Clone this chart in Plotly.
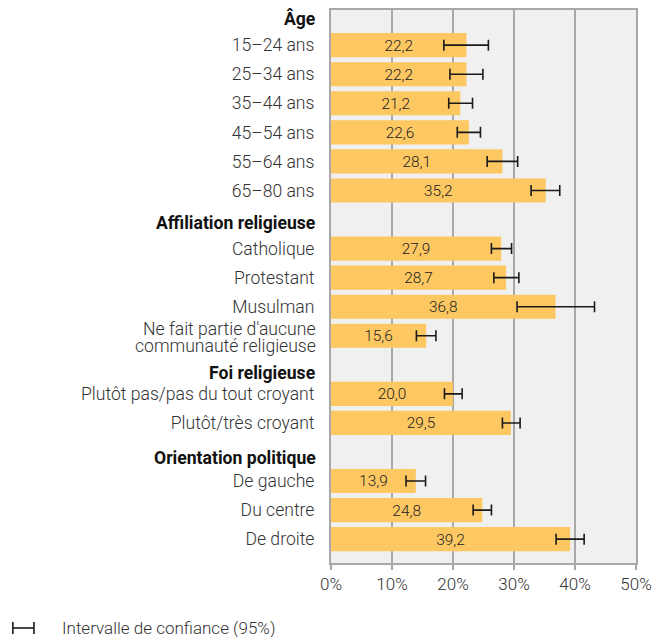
import plotly.graph_objects as go

# group headers and the row slot they sit on
groups = ["Âge", "Affiliation religieuse", "Foi religieuse", "Orientation politique"]
group_slots = [0, 7, 12, 15]

categories = [
    "15–24 ans", "25–34 ans", "35–44 ans", "45–54 ans", "55–64 ans", "65–80 ans",
    "Catholique", "Protestant", "Musulman",
    "Ne fait partie d'aucune<br>communauté religieuse",
    "Plutôt pas/pas du tout croyant", "Plutôt/très croyant",
    "De gauche", "Du centre", "De droite",
]
slots = [1, 2, 3, 4, 5, 6, 8, 9, 10, 11, 13, 14, 16, 17, 18]
values = [22.2, 22.2, 21.2, 22.6, 28.1, 35.2, 27.9, 28.7, 36.8, 15.6, 20.0, 29.5, 13.9, 24.8, 39.2]
ci_low = [18.5, 19.5, 19.3, 20.7, 25.6, 32.8, 26.3, 26.7, 30.5, 14.0, 18.6, 28.1, 12.3, 23.3, 36.9]
ci_high = [25.8, 24.9, 23.2, 24.5, 30.6, 37.5, 29.6, 30.8, 43.2, 17.2, 21.5, 31.0, 15.5, 26.3, 41.5]

x_ticks = [0, 10, 20, 30, 40, 50]
x_labels = ["0%", "10%", "20%", "30%", "40%", "50%"]

BAR = "#FDC762"
FONT = "Roboto"
TXT = dict(family=FONT, size=17, color="#333333", weight=300)
LBL = dict(family=FONT, size=17.6, color="#333333", weight=300)

fig = go.Figure(
    go.Bar(
        x=values,
        y=slots,
        orientation="h",
        width=0.83,
        marker=dict(color=BAR, line=dict(width=0)),
        text=[f"{v:.1f}".replace(".", ",") for v in values],
        textposition="inside",
        insidetextanchor="middle",
        textfont=dict(family=FONT, size=17, color="#222222", weight=300),
        error_x=dict(
            type="data",
            symmetric=False,
            array=[h - v for h, v in zip(ci_high, values)],
            arrayminus=[v - l for l, v in zip(ci_low, values)],
            color="#1a1a1a",
            thickness=1.6,
            width=5.5,
        ),
        hoverinfo="skip",
    )
)

# bold group headers
header_shift = [-2, -3, -8, -6]
for g, s, dy in zip(groups, group_slots, header_shift):
    fig.add_annotation(
        x=0, xref="paper", y=s, yref="y", text=f"<b>{g}</b>",
        xanchor="right", xshift=-13, yshift=dy, showarrow=False,
        font=dict(family=FONT, size=17.6, color="#111111", weight=500),
    )

# category labels: multi-line ones drawn as annotations so the lines sit tight
tick_text = []
for c, s in zip(categories, slots):
    if "<br>" in c:
        tick_text.append("")
        for line, dy in zip(c.split("<br>"), (7, -10)):
            fig.add_annotation(
                x=0, xref="paper", y=s, yref="y", text=line,
                xanchor="right", xshift=-13, yshift=dy, showarrow=False, font=LBL,
            )
    else:
        tick_text.append(c)

# legend for the confidence interval (page body has an 8px margin)
ly = -0.1175
fig.add_shape(type="line", xref="paper", yref="paper", x0=-1.043, x1=-0.974, y0=ly, y1=ly,
              line=dict(color="#1a1a1a", width=1.6))
for xx in (-1.043, -0.974):
    fig.add_shape(type="line", xref="paper", yref="paper", x0=xx, x1=xx, y0=ly + 0.011, y1=ly - 0.011,
                  line=dict(color="#1a1a1a", width=1.6))
fig.add_annotation(
    x=-0.889, xref="paper", y=ly, yref="paper", text="Intervalle de confiance (95%)",
    xanchor="left", yanchor="middle", showarrow=False, font=TXT,
)

fig.update_layout(
    width=658,
    height=629,
    margin=dict(l=323, r=30, t=2, b=74, autoexpand=False),
    paper_bgcolor="white",
    plot_bgcolor="#F0F0F0",
    showlegend=False,
    font=TXT,
)
fig.update_xaxes(
    range=[0, 50],
    tickvals=x_ticks,
    ticktext=x_labels,
    showgrid=True,
    gridcolor="#A8A8A8",
    gridwidth=1.5,
    showline=True,
    mirror=True,
    linecolor="#A8A8A8",
    linewidth=2,
    ticks="outside",
    ticklen=5,
    tickcolor="#A8A8A8",
    tickwidth=1.5,
    zeroline=False,
    tickfont=TXT,
)
fig.update_yaxes(
    range=[18.82, -0.21],
    tickvals=slots,
    ticktext=tick_text,
    showgrid=False,
    zeroline=False,
    showline=True,
    mirror=True,
    linecolor="#A8A8A8",
    linewidth=2,
    ticks="",
    ticklabelstandoff=11,
    tickfont=LBL,
)

fig.write_html("out.html")
